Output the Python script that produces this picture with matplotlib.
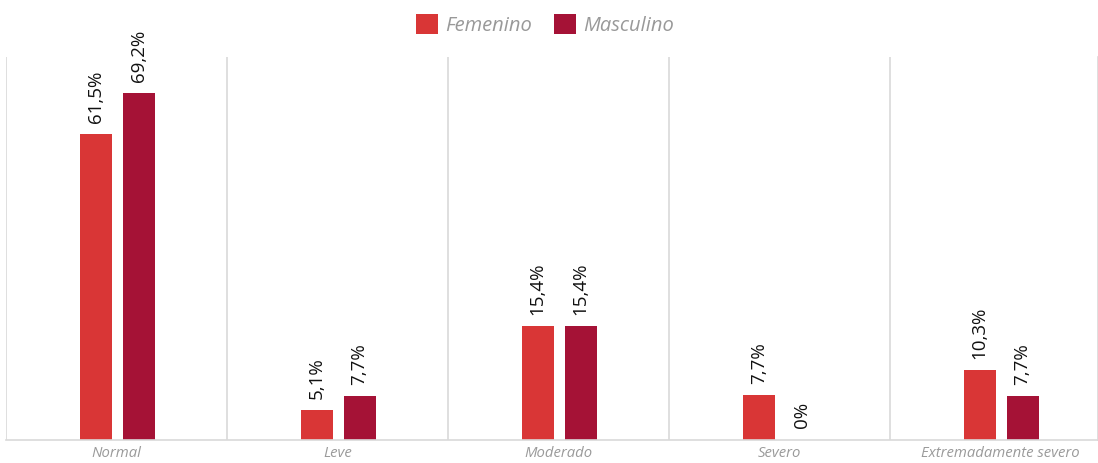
import numpy as np
import matplotlib.pyplot as plt

categorias = ['Normal', 'Leve', 'Moderado', 'Severo', 'Extremadamente severo']
# bar heights as drawn in the picture (labels printed separately)
femenino = [61.5, 5.9, 22.8, 9.0, 14.0]
masculino = [69.8, 8.8, 22.8, 0.0, 8.8]
etiq_fem = ['61,5%', '5,1%', '15,4%', '7,7%', '10,3%']
etiq_masc = ['69,2%', '7,7%', '15,4%', '0%', '7,7%']

plt.rcParams['font.family'] = ['Open Sans', 'DejaVu Sans']

fig = plt.figure(figsize=(10.98, 4.63), dpi=100)
ax = fig.add_axes([6/1098, 23.5/463, (1097.7-6)/1098, (439.5-57)/463])

x = np.arange(len(categorias))
w = 0.145
off = 0.097
c_fem = '#D93636'
c_masc = '#A51236'

ax.bar(x - off + 0.003, femenino, w, color=c_fem, label='Femenino')
ax.bar(x + off + 0.003, masculino, w, color=c_masc, label='Masculino')

for xi, v, t in zip(x - off + 0.003, femenino, etiq_fem):
    ax.annotate(t, (xi, v), xytext=(0, 8), textcoords='offset points',
                rotation=90, ha='center', va='bottom', fontsize=13.5, color='#111111')
for xi, v, t in zip(x + off + 0.003, masculino, etiq_masc):
    ax.annotate(t, (xi, v), xytext=(0, 8), textcoords='offset points',
                rotation=90, ha='center', va='bottom', fontsize=13.5, color='#111111')

ax.set_xlim(-0.5, 4.44)
ax.set_ylim(0, 77)
for s in np.arange(-0.5, 4.0, 1.0):
    ax.axvline(s, color='#d9d9d9', lw=1.2, zorder=0)
ax.axvline(4.44, color='#d9d9d9', lw=1.2, zorder=0, clip_on=False)

for sp in ['top', 'right', 'left']:
    ax.spines[sp].set_visible(False)
ax.spines['bottom'].set_color('#d9d9d9')
ax.spines['bottom'].set_linewidth(1.2)

ax.set_yticks([])
ax.set_xticks(x)
ax.set_xticklabels(categorias, style='italic', color='#9a9a9a', fontsize=10.7)
ax.tick_params(axis='x', length=0, pad=5)

leg = fig.legend(loc='center', bbox_to_anchor=(545/1098, 1 - 25/463), ncol=2, frameon=False,
                 prop={'style': 'italic', 'size': 14.5}, handlelength=1.1, handleheight=1.1,
                 columnspacing=1.1, handletextpad=0.35)
for t in leg.get_texts():
    t.set_color('#999999')

fig.savefig('out.png', dpi=100)
